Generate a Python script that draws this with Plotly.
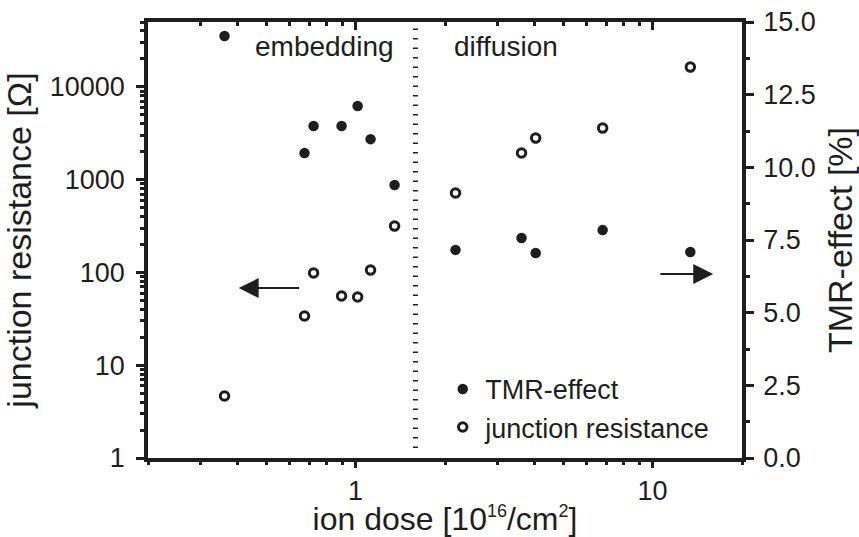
import math
import plotly.graph_objects as go

# ---- data ----
ion_dose = [0.362, 0.673, 0.722, 0.897, 1.016, 1.123, 1.353, 2.17, 3.62, 4.04, 6.79, 13.4]
tmr_effect = [14.52, 10.49, 11.42, 11.42, 12.11, 10.97, 9.39, 7.16, 7.57, 7.05, 7.84, 7.09]
junction_resistance = [4.66, 33.9, 98.6, 55.7, 54.3, 106, 316, 717, 1935, 2806, 3597, 16340]

x_range = [0.2, 20]
y_left_range = [1, 50000]
y_right_range = [0, 15]
left_tickvals = [1, 10, 100, 1000, 10000]
left_ticktext = ["1", "10", "100", "1000", "10000"]
right_tickvals = [0, 2.5, 5, 7.5, 10, 12.5, 15]
right_ticktext = ["0.0", "2.5", "5.0", "7.5", "10.0", "12.5", "15.0"]
x_tickvals = [1, 10]
x_ticktext = ["1", "10"]

divider_dose = 1.59
left_arrow = dict(x_from=0.653, x_to=0.404, y=67.9)
right_arrow = dict(x_from=10.5, x_to=16.0, y=6.33)

FONT = "Liberation Sans, Arial, sans-serif"
INK = "#1e1e1e"
LW = 3.5
TICK_SIZE = 27
TITLE_SIZE = 34
TEXT_SIZE = 28

fig = go.Figure()

fig.add_trace(go.Scatter(
    x=ion_dose, y=tmr_effect, mode="markers", name="TMR-effect",
    yaxis="y2",
    marker=dict(symbol="circle", size=10.5, color=INK, line=dict(width=0)),
))
fig.add_trace(go.Scatter(
    x=ion_dose, y=junction_resistance, mode="markers", name="junction resistance",
    yaxis="y",
    marker=dict(symbol="circle-open", size=8.5, color=INK, line=dict(width=3, color=INK)),
))
# invisible trace to register the top tick axis
fig.add_trace(go.Scatter(x=[x_range[0]], y=[y_left_range[0]], xaxis="x2", yaxis="y",
                         mode="markers", marker=dict(opacity=0), showlegend=False,
                         hoverinfo="skip"))

tickfont = dict(family=FONT, size=TICK_SIZE, color=INK)
title_font = dict(family=FONT, size=TITLE_SIZE, color=INK)

fig.update_layout(
    width=859, height=537,
    margin=dict(l=148, r=117, t=22, b=79),
    paper_bgcolor="white", plot_bgcolor="white",
    font=dict(family=FONT, color=INK),
    xaxis=dict(
        type="log", range=[math.log10(x_range[0]), math.log10(x_range[1])],
        tickmode="array", tickvals=x_tickvals, ticktext=x_ticktext,
        ticks="outside", ticklen=6, tickwidth=3, tickcolor=INK,
        minor=dict(tickmode="linear", dtick="D1", ticks="outside", ticklen=3.5, tickwidth=2.5, tickcolor=INK),
        showline=True, linewidth=LW, linecolor=INK, mirror=True,
        showgrid=False, zeroline=False, automargin=False,
        title=dict(text="ion dose [10<sup><span style='font-size:18px'>16</span></sup>/cm<sup><span style='font-size:18px'>2</span></sup>]",
                   font=dict(family=FONT, size=32, color=INK), standoff=15),
        tickfont=tickfont,
    ),
    xaxis2=dict(
        type="log", range=[math.log10(x_range[0]), math.log10(x_range[1])],
        overlaying="x", side="top", anchor="y",
        tickmode="array", tickvals=x_tickvals, showticklabels=False,
        ticks="inside", ticklen=8, tickwidth=3, tickcolor=INK,
        minor=dict(tickmode="linear", dtick="D1", ticks="inside", ticklen=4, tickwidth=2.5, tickcolor=INK),
        showline=False, showgrid=False, zeroline=False, automargin=False,
    ),
    yaxis=dict(
        type="log", range=[math.log10(y_left_range[0]), math.log10(y_left_range[1])],
        tickmode="array", tickvals=left_tickvals, ticktext=left_ticktext,
        ticks="outside", ticklen=8, tickwidth=3, tickcolor=INK,
        minor=dict(tickmode="linear", dtick="D1", ticks="outside", ticklen=4, tickwidth=2.5, tickcolor=INK),
        showline=True, linewidth=LW, linecolor=INK,
        showgrid=False, zeroline=False, automargin=False,
        ticklabelstandoff=6,
        title=dict(text="junction resistance [Ω]", font=title_font, standoff=10),
        tickfont=tickfont,
    ),
    yaxis2=dict(
        overlaying="y", side="right", anchor="x",
        range=y_right_range,
        tickmode="array", tickvals=right_tickvals, ticktext=right_ticktext,
        ticks="outside", ticklen=8, tickwidth=3, tickcolor=INK,
        minor=dict(tickmode="linear", tick0=0, dtick=1.25, ticks="outside", ticklen=4, tickwidth=2.5, tickcolor=INK),
        showline=True, linewidth=LW, linecolor=INK,
        showgrid=False, zeroline=False, automargin=False,
        ticklabelstandoff=4,
        title=dict(text="TMR-effect [%]", font=title_font, standoff=14),
        tickfont=tickfont,
    ),
    legend=dict(
        x=0.492, y=0.014, xanchor="left", yanchor="bottom",
        bgcolor="rgba(0,0,0,0)", borderwidth=0,
        font=dict(family=FONT, size=27, color=INK),
        itemwidth=35, tracegroupgap=0,
    ),
    showlegend=True,
)

# divider between the two regimes
fig.add_shape(type="line", xref="x", yref="paper",
              x0=divider_dose, x1=divider_dose, y0=0.023, y1=0.99,
              line=dict(color=INK, width=5, dash="1.5px,8px"))

# region labels
fig.add_annotation(text="embedding", xref="x", yref="paper",
                   x=math.log10(0.786), y=0.943, xanchor="center", yanchor="middle",
                   showarrow=False, font=dict(family=FONT, size=TEXT_SIZE, color=INK))
fig.add_annotation(text="diffusion", xref="x", yref="paper",
                   x=math.log10(3.22), y=0.943, xanchor="center", yanchor="middle",
                   showarrow=False, font=dict(family=FONT, size=TEXT_SIZE, color=INK))

# arrows pointing to the corresponding axes
fig.add_annotation(x=math.log10(left_arrow["x_to"]), y=math.log10(left_arrow["y"]),
                   ax=math.log10(left_arrow["x_from"]), ay=math.log10(left_arrow["y"]),
                   xref="x", yref="y", axref="x", ayref="y", text="",
                   showarrow=True, arrowhead=2, arrowsize=2, arrowwidth=2, arrowcolor=INK)
fig.add_annotation(x=math.log10(right_arrow["x_to"]), y=right_arrow["y"],
                   ax=math.log10(right_arrow["x_from"]), ay=right_arrow["y"],
                   xref="x", yref="y2", axref="x", ayref="y2", text="",
                   showarrow=True, arrowhead=2, arrowsize=2, arrowwidth=2, arrowcolor=INK)

fig.write_html("out.html")
